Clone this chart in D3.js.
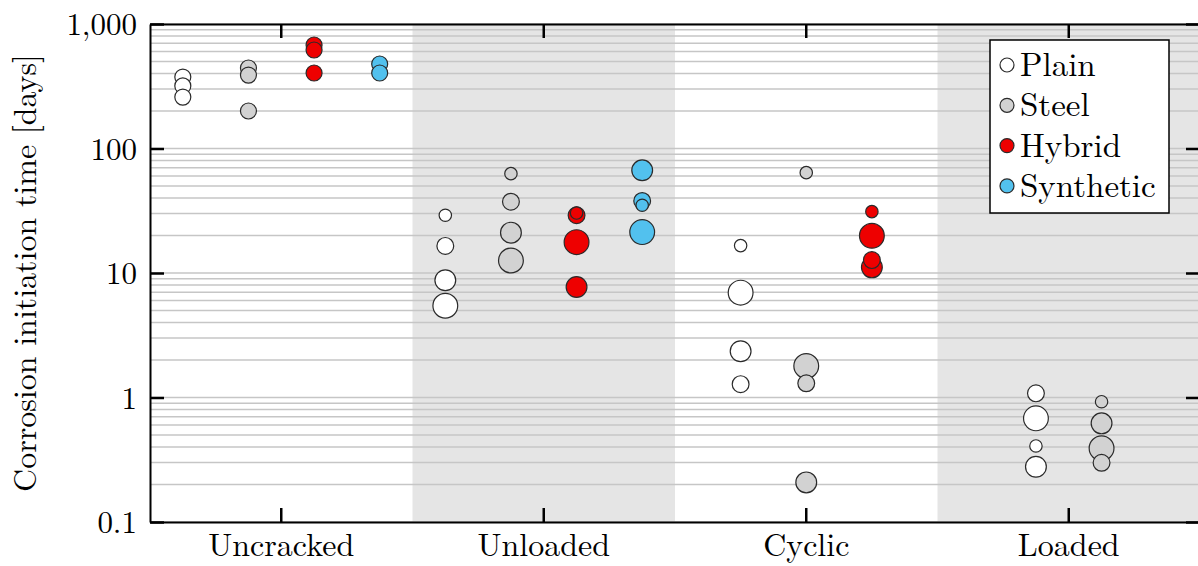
<!DOCTYPE html>
<html>
<head>
<meta charset="utf-8">
<script src="https://cdn.jsdelivr.net/npm/d3@7"></script>
<style>
  body { margin: 0; background: #fff; }
  svg text { font-family: "Latin Modern Roman", "Liberation Serif", serif; }
</style>
</head>
<body>
<div id="canvas"></div>
<script>
// categories and series
const categories = ["Uncracked", "Unloaded", "Cyclic", "Loaded"];
const seriesNames = ["Plain", "Steel", "Hybrid", "Synthetic"];
const shaded = ["Unloaded", "Loaded"];
const yTickValues = [0.1, 1, 10, 100, 1000];

// values per category (days); empty = not tested
const plainValues = [[375, 318, 259], [29.1, 16.5, 8.74, 5.46], [16.6, 6.95, 2.35, 1.28], [1.08, 0.68, 0.408, 0.278]];
const steelValues = [[443, 389, 200], [62.8, 37.4, 21.1, 12.6], [64, 1.79, 1.30, 0.208], [0.925, 0.62, 0.391, 0.299]];
const hybridValues = [[678, 618, 404], [29.1, 30.3, 17.7, 7.72], [31.1, 19.9, 12.7, 11.1], []];
const syntheticValues = [[477, 404], [66.8, 37.9, 35, 21.3], [], []];

// marker size class (0 = uncracked)
const plainLevels = [[0, 0, 0], [1, 2, 3, 4], [1, 4, 3, 2], [2, 4, 1, 3]];
const steelLevels = [[0, 0, 0], [1, 2, 3, 4], [1, 4, 2, 3], [1, 3, 4, 2]];
const hybridLevels = [[0, 0, 0], [2, 1, 4, 3], [1, 4, 2, 3], []];
const syntheticLevels = [[0, 0], [3, 2, 1, 4], [], []];

const allValues = [plainValues, steelValues, hybridValues, syntheticValues];
const allLevels = [plainLevels, steelLevels, hybridLevels, syntheticLevels];

const FONT = "'Latin Modern Roman', 'Liberation Serif', serif";
const width = 1198;
const height = 566;
const margin = { top: 24, left: 150, bottom: 44, right: -2 };

const svg = d3.select("#canvas").append("svg")
  .attr("width", width)
  .attr("height", height)
  .attr("font-family", FONT);

const x = d3.scaleBand()
  .domain(categories)
  .range([margin.left, width - margin.right]);

const y = d3.scaleLog()
  .domain([0.1, 1000])
  .range([height - margin.bottom, margin.top]);

const color = d3.scaleOrdinal()
  .domain(seriesNames)
  .range(["#ffffff", "#d2d2d2", "#ee0000", "#52c1ee"]);

const radius = d3.scaleOrdinal()
  .domain([0, 1, 2, 3, 4])
  .range([8, 6.2, 8.4, 10.4, 12.4]);

// shaded bands
svg.append("g").selectAll("rect")
  .data(shaded)
  .join("rect")
  .attr("x", d => x(d))
  .attr("y", margin.top)
  .attr("width", x.bandwidth())
  .attr("height", y(0.1) - margin.top)
  .attr("fill", "#e5e5e5");

// grid
svg.append("g").selectAll("line")
  .data(y.ticks())
  .join("line")
  .attr("x1", margin.left)
  .attr("x2", width - margin.right)
  .attr("y1", d => y(d))
  .attr("y2", d => y(d))
  .attr("stroke", "#c6c6c6")
  .attr("stroke-width", 1.5);

// points
const step = x.bandwidth() / 4;
const points = [];
categories.forEach((cat, ci) => {
  const present = seriesNames.filter((s, si) => allValues[si][ci].length > 0);
  const c = x(cat) + x.bandwidth() / 2;
  const half = (present.length - 1) / 2 * step;
  const px = d3.scalePoint().domain(present).range([c - half, c + half]);
  present.forEach(s => {
    const si = seriesNames.indexOf(s);
    const pts = allValues[si][ci].map((v, k) => ({ s, v, lvl: allLevels[si][ci][k], cx: px(s) }));
    pts.sort((a, b) => b.lvl - a.lvl);
    points.push(...pts);
  });
});

svg.append("g").selectAll("circle")
  .data(points)
  .join("circle")
  .attr("cx", d => d.cx)
  .attr("cy", d => y(d.v))
  .attr("r", d => radius(d.lvl))
  .attr("fill", d => color(d.s))
  .attr("stroke", "#2a2a2a")
  .attr("stroke-width", 1.2);

// axes
const fmt = d => d < 1 ? String(d) : d3.format(",")(d);

const axLeft = svg.append("g")
  .attr("transform", `translate(${margin.left},0)`)
  .call(d3.axisLeft(y).tickValues(yTickValues).tickFormat(fmt).tickSizeInner(-14).tickSizeOuter(0).tickPadding(13));

const axRight = svg.append("g")
  .attr("transform", `translate(${width - margin.right},0)`)
  .call(d3.axisRight(y).tickValues(yTickValues).tickFormat("").tickSizeInner(-14).tickSizeOuter(0));

const axBottom = svg.append("g")
  .attr("transform", `translate(0,${y(0.1)})`)
  .call(d3.axisBottom(x).tickSizeInner(-14).tickSizeOuter(0).tickPadding(11));

const axTop = svg.append("g")
  .attr("transform", `translate(0,${margin.top})`)
  .call(d3.axisTop(x).tickFormat("").tickSizeInner(-14).tickSizeOuter(0));

[axLeft, axRight, axBottom, axTop].forEach(g => {
  g.attr("font-family", FONT);
  g.select(".domain").attr("stroke", "#000").attr("stroke-width", 2);
  g.selectAll(".tick line").attr("stroke", "#000").attr("stroke-width", 2.5);
  g.selectAll(".tick text").attr("fill", "#000").attr("font-family", FONT);
});
axLeft.selectAll(".tick text").attr("font-size", 31).attr("dy", "0.34em");
axBottom.selectAll(".tick text").attr("font-size", 32);

svg.append("text")
  .attr("transform", `translate(36,${(margin.top + y(0.1)) / 2}) rotate(-90)`)
  .attr("text-anchor", "middle")
  .attr("font-family", FONT)
  .attr("font-size", 32)
  .text("Corrosion initiation time [days]");

// legend
const legend = svg.append("g").attr("transform", "translate(990,40)");
legend.append("rect")
  .attr("width", 179)
  .attr("height", 173)
  .attr("fill", "#fff")
  .attr("stroke", "#000")
  .attr("stroke-width", 1.5);

const item = legend.selectAll("g.item")
  .data(seriesNames)
  .join("g")
  .attr("class", "item")
  .attr("transform", (d, i) => `translate(0,${25 + i * 40.3})`);

item.append("circle")
  .attr("cx", 17)
  .attr("r", 7)
  .attr("fill", d => color(d))
  .attr("stroke", "#2a2a2a")
  .attr("stroke-width", 1.2);

item.append("text")
  .attr("x", 30)
  .attr("y", 11)
  .attr("font-family", FONT)
  .attr("font-size", 33)
  .text(d => d);
</script>
</body>
</html>
